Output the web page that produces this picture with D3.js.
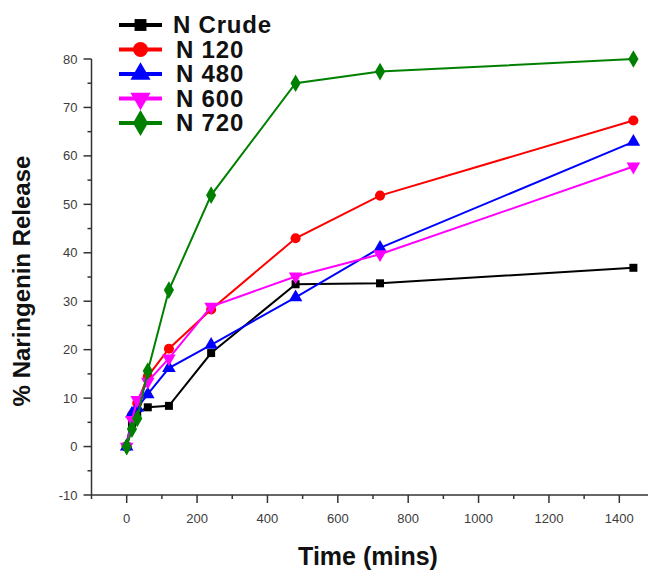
<!DOCTYPE html>
<html>
<head>
<meta charset="utf-8">
<script src="https://cdn.jsdelivr.net/npm/d3@7"></script>
<style>
  body { margin: 0; background: #fff; }
  svg { display: block; }
</style>
</head>
<body>
<div id="chart"></div>
<script>
// release data
const times = [0, 15, 30, 60, 120, 240, 480, 720, 1440];
const crude = [0, 4.5, 7, 8.1, 8.4, 19.3, 33.5, 33.7, 36.9];
const n120 = [0, 6.5, 9, 14.5, 20.2, 28.3, 43.0, 51.8, 67.3];
const n480 = [0, 6.8, 8, 10.8, 16.2, 21.0, 30.8, 41.0, 62.9];
const n600 = [0, 5.5, 9.6, 13.4, 18.2, 28.9, 35.1, 39.7, 57.8];
const n720 = [0, 3.6, 5.8, 15.6, 32.3, 51.9, 75.0, 77.4, 80.0];

const seriesNames = ["N Crude", "N 120", "N 480", "N 600", "N 720"];
const xTicks = [0, 200, 400, 600, 800, 1000, 1200, 1400];
const yTicks = [-10, 0, 10, 20, 30, 40, 50, 60, 70, 80];

const series = [
  { name: seriesNames[0], values: crude, color: "#000000", symbol: d3.symbolSquare, size: 64, rot: 0 },
  { name: seriesNames[1], values: n120, color: "#ff0000", symbol: d3.symbolCircle, size: 80, rot: 0 },
  { name: seriesNames[2], values: n480, color: "#0000ff", symbol: d3.symbolTriangle, size: 80, rot: 0 },
  { name: seriesNames[3], values: n600, color: "#ff00ff", symbol: d3.symbolTriangle, size: 80, rot: 180 },
  { name: seriesNames[4], values: n720, color: "#008000", symbol: d3.symbolDiamond, size: 90, rot: 0 }
];

const W = 648, H = 573;
const svg = d3.select("#chart").append("svg")
  .attr("width", W).attr("height", H)
  .style("font-family", "'Liberation Sans', Arial, sans-serif");

const x = d3.scaleLinear().domain([-100, 1500]).range([91.5, 654.5]);
const y = d3.scaleLinear().domain([-10, 80]).range([495, 59]);

// x axis
const xAxis = svg.append("g").attr("transform", `translate(0,${y(-10)})`);
xAxis.append("line")
  .attr("x1", x(-100)).attr("x2", W)
  .attr("stroke", "#333").attr("stroke-width", 1.5);
xAxis.selectAll(".minor")
  .data(d3.range(-100, 1500, 100))
  .join("line")
  .attr("x1", d => x(d)).attr("x2", d => x(d))
  .attr("y1", 0).attr("y2", d => d % 200 === 0 ? 8 : 4)
  .attr("stroke", "#333").attr("stroke-width", 1.5);
xAxis.selectAll("text")
  .data(xTicks)
  .join("text")
  .attr("x", d => x(d)).attr("y", 28)
  .attr("text-anchor", "middle")
  .attr("font-size", 13).attr("fill", "#3c3c3c")
  .text(d => d);

// y axis
const yAxis = svg.append("g").attr("transform", `translate(${x(-100)},0)`);
yAxis.append("line")
  .attr("y1", y(80)).attr("y2", y(-10))
  .attr("stroke", "#333").attr("stroke-width", 1.5);
yAxis.selectAll(".tk")
  .data(d3.range(-10, 81, 5))
  .join("line")
  .attr("y1", d => y(d)).attr("y2", d => y(d))
  .attr("x1", 0).attr("x2", d => d % 10 === 0 ? -8 : -4)
  .attr("stroke", "#333").attr("stroke-width", 1.5);
yAxis.selectAll("text")
  .data(yTicks)
  .join("text")
  .attr("x", -14).attr("y", d => y(d) + 4.5)
  .attr("text-anchor", "end")
  .attr("font-size", 13).attr("fill", "#3c3c3c")
  .text(d => d);

// axis titles
svg.append("text")
  .attr("transform", `translate(30,${(y(80) + y(-10)) / 2 + 4}) rotate(-90)`)
  .attr("text-anchor", "middle")
  .attr("font-size", 24).attr("font-weight", "bold").attr("fill", "#111")
  .text("% Naringenin Release");
svg.append("text")
  .attr("x", 368).attr("y", 565)
  .attr("text-anchor", "middle")
  .attr("font-size", 25).attr("font-weight", "bold").attr("fill", "#111")
  .text("Time (mins)");

// lines and markers
const line = d3.line().x((d, i) => x(times[i])).y(d => y(d));
const plot = svg.append("g");
series.forEach(s => {
  plot.append("path")
    .attr("d", line(s.values))
    .attr("fill", "none").attr("stroke", s.color).attr("stroke-width", 2);
  plot.selectAll(null)
    .data(s.values)
    .join("path")
    .attr("transform", (d, i) => `translate(${x(times[i])},${y(d)}) rotate(${s.rot})`)
    .attr("d", d3.symbol().type(s.symbol).size(s.size))
    .attr("fill", s.color);
});

// legend
const legend = svg.append("g").attr("transform", "translate(119,25)");
series.forEach((s, i) => {
  const g = legend.append("g").attr("transform", `translate(0,${i * 24.5})`);
  g.append("line").attr("x1", 0).attr("x2", 43)
    .attr("stroke", s.color).attr("stroke-width", 4);
  g.append("path")
    .attr("transform", `translate(21.5,0) rotate(${s.rot})`)
    .attr("d", d3.symbol().type(s.symbol).size(s.size * 2.2))
    .attr("fill", s.color);
  g.append("text")
    .attr("x", i === 0 ? 54 : 57).attr("y", 8)
    .attr("font-size", 24).attr("font-weight", "bold").attr("fill", "#111")
    .attr("letter-spacing", 0.8)
    .text(s.name);
});
</script>
</body>
</html>
